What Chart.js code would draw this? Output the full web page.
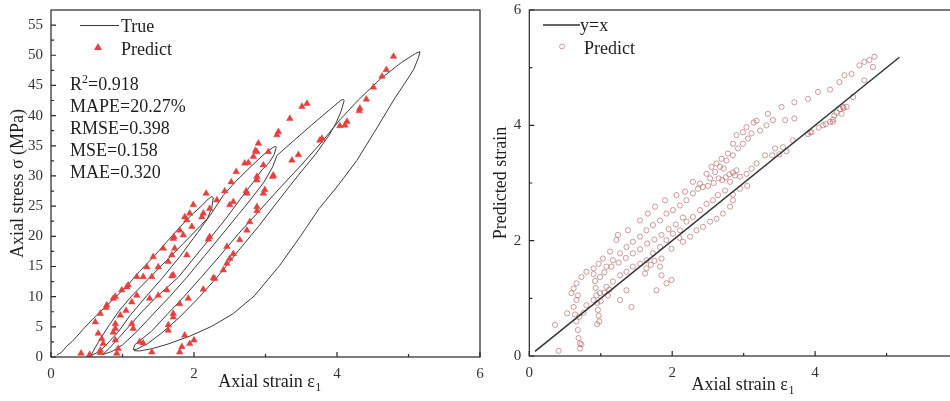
<!DOCTYPE html>
<html>
<head>
<meta charset="utf-8">
<script src="https://cdn.jsdelivr.net/npm/chart.js@4.4.1/dist/chart.umd.min.js"></script>
<style>
    html, body { margin: 0; padding: 0; background: #fff; overflow: hidden; }
    #wrap { position: relative; width: 950px; height: 401px; overflow: hidden; }
    #leftChart { position: absolute; left: 0; top: 0; }
    #rightChart { position: absolute; left: 490px; top: 0; }
</style>
</head>
<body>
<div id="wrap">
    <canvas id="leftChart" width="500" height="401"></canvas>
    <canvas id="rightChart" width="480" height="401"></canvas>
</div>
<script>
// --- 1. data ---

// stress-strain curve (True), one branch per loading / unloading pass
const trueLoad1 = [[0.08,0.3],[0.15,0.8],[0.22,1.8],[0.3,2.6],[0.45,4.6],[0.6,6.5],[0.75,8.2],[0.9,9.9],[1.05,11.6],[1.24,14.2],[1.45,16.8],[1.71,20.3],[1.88,22.5],[1.99,23.8],[2.12,25.2],[2.2,26.2],[2.25,26.6]];
const trueUnload1 = [[2.27,26.4],[2.25,24.8],[2.19,23.0],[2.08,21.6],[1.85,18.8],[1.6,15.8],[1.36,12.9],[1.12,10.0],[0.95,7.6],[0.82,5.4],[0.7,3.2],[0.62,1.6],[0.57,0.5],[0.55,0.2]];
const trueLoad2 = [[0.55,0.2],[0.68,0.9],[0.82,2.6],[0.95,4.3],[1.1,6.8],[1.3,9.6],[1.55,13.0],[1.8,16.6],[2.05,20.6],[2.25,23.9],[2.41,26.8],[2.6,29.3],[2.8,31.6],[2.98,33.6],[3.1,34.7],[3.14,34.9]];
const trueUnload2 = [[3.15,34.7],[3.12,33.5],[3.05,32.2],[2.95,31.0],[2.83,29.0],[2.65,26.2],[2.45,23.0],[2.22,19.6],[2.0,16.4],[1.78,13.2],[1.48,10.0],[1.28,7.6],[1.1,5.2],[0.95,3.2],[0.82,1.5],[0.74,0.6],[0.72,0.4]];
const trueLoad3 = [[0.72,0.4],[0.85,0.9],[1.0,2.0],[1.2,4.2],[1.42,7.0],[1.66,10.0],[1.9,13.2],[2.15,16.8],[2.4,20.4],[2.62,23.6],[2.8,26.2],[2.98,29.0],[3.1,31.5],[3.16,33.4],[3.4,35.9],[3.65,38.5],[3.9,41.0],[4.05,42.5],[4.09,42.7]];
const trueUnload3 = [[4.1,42.5],[4.06,40.8],[3.98,38.6],[3.88,36.6],[3.7,33.6],[3.45,30.0],[3.16,25.6],[2.9,21.6],[2.62,17.6],[2.35,13.6],[2.08,10.0],[1.8,6.6],[1.55,4.0],[1.35,2.2],[1.2,1.3],[1.15,1.2]];
const trueLoad4 = [[1.15,1.2],[1.17,2.0],[1.25,2.8],[1.4,4.2],[1.62,7.0],[1.86,10.0],[2.1,13.2],[2.35,16.6],[2.62,20.4],[2.92,24.3],[3.2,28.0],[3.5,31.8],[3.8,35.8],[4.04,39.3],[4.3,42.6],[4.6,46.0],[4.9,48.8],[5.1,50.3],[5.16,50.6]];
const trueUnload4 = [[5.16,50.6],[5.14,49.6],[5.07,47.6],[4.95,45.4],[4.81,42.9],[4.57,38.2],[4.28,32.6],[4.0,28.2],[3.75,24.6],[3.5,20.2],[3.2,15.2],[2.85,10.2],[2.55,7.2],[2.25,5.1],[1.95,3.5],[1.65,2.2],[1.42,1.4],[1.24,1.0],[1.16,1.05]];

// predicted strain vs. stress (left, triangles)
const predictStress = [[4.79,49.8],[4.69,47.6],[4.63,46.5],[4.51,44.7],[4.41,42.7],[4.32,41.2],[4.31,40.8],[4.14,39.0],[4.11,38.4],[4.04,38.3],[3.79,36.2],[3.76,35.9],[3.58,42.0],[3.51,41.5],[3.34,39.5],[3.46,33.5],[3.37,32.6],[3.18,37.3],[3.16,36.8],[3.11,30.1],[3.10,29.9],[3.04,34.0],[2.99,27.7],[2.97,27.1],[2.97,31.8],[2.90,35.4],[2.88,34.0],[2.86,34.2],[2.83,33.2],[2.76,32.2],[2.71,32.1],[2.88,29.9],[2.88,29.3],[2.88,24.9],[2.88,24.2],[2.74,27.1],[2.73,27.5],[2.78,22.4],[2.74,21.0],[2.64,19.4],[2.59,30.7],[2.52,29.0],[2.55,25.7],[2.50,25.2],[2.43,27.5],[2.32,26.0],[2.22,24.6],[2.17,27.1],[2.13,23.8],[2.11,23.2],[2.22,19.9],[2.20,19.5],[2.46,18.3],[2.55,17.1],[2.50,16.3],[2.46,15.5],[2.41,14.4],[2.29,13.0],[2.27,13.1],[2.13,11.2],[1.99,25.2],[1.94,23.8],[1.90,22.7],[1.87,23.2],[1.97,21.6],[1.85,20.2],[1.80,21.0],[1.71,19.6],[1.72,19.9],[1.57,18.0],[1.43,16.6],[1.34,14.9],[1.20,13.3],[1.08,11.9],[1.06,11.6],[0.99,11.1],[0.90,10.0],[0.87,9.7],[0.78,8.6],[0.77,8.2],[0.69,7.2],[0.62,5.8],[0.66,3.9],[0.71,3.0],[0.73,2.2],[0.69,1.1],[0.69,0.7],[0.42,0.6],[0.54,0.4],[0.92,0.6],[0.94,1.4],[0.90,2.8],[0.87,4.1],[0.90,4.7],[0.90,5.5],[0.97,6.9],[1.05,7.7],[1.13,9.1],[1.20,10.2],[1.29,13.3],[1.41,13.3],[1.50,14.9],[1.64,15.8],[1.69,16.9],[1.73,18.0],[1.90,16.9],[1.71,13.6],[1.69,13.4],[1.62,11.1],[1.50,10.2],[1.38,9.7],[1.13,5.5],[1.15,4.7],[1.24,2.5],[1.29,2.3],[1.41,0.8],[1.64,5.3],[1.64,4.4],[1.71,7.2],[1.71,6.6],[1.80,8.8],[1.87,3.6],[1.83,1.7],[1.80,0.8],[1.94,2.2],[2.00,2.8],[1.92,9.7]];

// fit statistics printed on the left panel
const statLines = ['R2=0.918', 'MAPE=20.27%', 'RMSE=0.398', 'MSE=0.158', 'MAE=0.320'];

// true vs. predicted strain (right, circles)
const predictUpper = [[4.83,5.19],[4.76,5.13],[4.69,5.10],[4.62,5.04],[4.51,4.89],[4.41,4.87],[4.34,4.75],[4.21,4.62],[4.04,4.58],[3.90,4.46],[3.71,4.40],[3.53,4.32],[3.34,4.20],[3.18,4.08],[3.14,4.05],[3.04,3.97],[2.99,3.88],[2.90,3.83],[2.85,3.68],[2.78,3.51],[2.69,3.42],[2.62,3.34],[2.55,3.28],[2.48,3.16],[2.39,2.99],[2.29,3.02],[2.18,2.85],[2.06,2.79],[1.90,2.70],[1.76,2.59],[1.66,2.47],[1.55,2.35],[1.38,2.18],[1.24,2.10],[1.22,2.01],[1.13,1.81],[1.03,1.69],[0.97,1.60],[0.90,1.52],[0.80,1.46],[0.73,1.37],[0.66,1.26],[0.62,1.17],[0.59,1.09]];
const predictMiddle = [[4.44,4.32],[4.37,4.20],[4.25,4.06],[4.11,4.00],[3.95,3.88],[3.71,4.12],[3.58,4.09],[3.41,4.09],[3.32,4.00],[3.23,3.91],[3.11,3.86],[3.06,3.77],[2.99,3.68],[2.92,3.60],[2.85,3.48],[2.76,3.39],[2.67,3.28],[2.60,3.19],[2.53,3.08],[2.43,2.93],[2.36,2.90],[2.29,2.82],[2.20,2.70],[2.11,2.61],[2.01,2.53],[1.92,2.47],[1.83,2.35],[1.73,2.27],[1.64,2.18],[1.55,2.07],[1.45,1.98],[1.36,1.89],[1.27,1.78],[1.17,1.66],[1.08,1.55],[0.99,1.37],[2.70,3.05],[2.75,3.10],[2.80,3.15],[2.85,3.18],[2.90,3.22],[2.72,3.25],[2.65,3.08],[2.58,3.00],[2.50,2.95],[1.05,1.45],[1.15,1.55],[1.25,1.62],[1.35,1.70],[1.45,1.78],[1.55,1.85],[1.65,1.95],[1.75,2.02],[1.85,2.10],[1.95,2.20],[2.05,2.28],[2.15,2.40]];
const predictNearLine = [[4.81,5.01],[4.69,4.78],[4.53,4.49],[4.39,4.32],[4.27,4.17],[4.21,4.06],[3.93,3.88],[3.69,3.74],[3.55,3.62],[3.44,3.60],[3.30,3.48],[3.18,3.34],[3.11,3.25],[3.04,3.16],[2.95,3.11],[2.88,3.13],[2.81,3.02],[2.74,2.87],[2.64,2.79],[2.57,2.70],[2.48,2.64],[2.39,2.53],[2.29,2.41],[2.20,2.33],[2.11,2.18],[2.01,2.12],[1.92,2.01],[1.83,1.89],[1.73,1.78],[1.64,1.66],[1.55,1.60],[1.45,1.55],[1.36,1.46],[1.27,1.40],[1.17,1.29],[1.08,1.20],[0.99,1.09],[0.90,0.97],[0.80,0.88]];
const predictLower = [[4.30,4.22],[4.35,4.28],[4.40,4.30],[4.25,4.10],[4.15,4.02],[4.05,3.96],[3.90,3.85],[3.60,3.55],[3.50,3.50],[3.40,3.48],[3.05,2.95],[2.95,2.90],[2.85,2.80],[2.85,2.70],[2.81,2.59],[2.71,2.47],[2.62,2.38],[2.53,2.33],[2.43,2.24],[2.34,2.18],[2.25,2.07],[2.15,1.98],[2.10,2.05],[1.99,1.86],[1.99,1.32],[1.92,1.26],[1.85,1.40],[1.83,1.55],[1.85,1.69],[1.78,1.14],[1.64,1.52],[1.62,1.43],[1.43,0.85],[1.36,1.14],[1.27,0.97],[1.70,1.58],[1.75,1.65]];
const predictLowLeft = [[0.36,0.54],[0.41,0.09],[0.53,0.74],[0.66,0.97],[0.62,0.85],[0.64,0.72],[0.66,0.60],[0.68,0.45],[0.69,0.31],[0.71,0.22],[0.71,0.13],[0.73,0.20],[0.68,1.05],[0.70,0.68],[0.76,0.75],[0.90,1.42],[0.92,1.30],[0.93,1.18],[0.94,1.05],[0.95,0.92],[0.96,0.80],[0.97,0.70],[0.98,0.60],[0.95,0.55],[1.00,0.95],[1.05,1.10],[1.12,1.15],[1.10,1.05]];

// reference line y = x
const identityLine = [[0.08,0.08],[5.18,5.18]];

// axis tick positions
const leftXMajor = [0, 2, 4, 6];
const leftXMinor = [1, 3, 5];
const leftYMajor = [0, 5, 10, 15, 20, 25, 30, 35, 40, 45, 50, 55];
const leftYMinor = [2.5, 7.5, 12.5, 17.5, 22.5, 27.5, 32.5, 37.5, 42.5, 47.5, 52.5];
const rightXMajor = [0, 2, 4, 6];
const rightXMinor = [1, 3, 5];
const rightYMajor = [0, 2, 4, 6];
const rightYMinor = [1, 3, 5];

const FONT = "'Liberation Serif', 'Times New Roman', serif";
const INK = '#262626';
const RED = '#e4403e';
const ROSE = 'rgba(178, 100, 100, 0.8)';

// --- 2. helpers ---

function toXY(pairs) {
    return pairs.map(p => ({ x: p[0], y: p[1] }));
}

function axis(min, max, step, size, isX) {
    return {
        type: 'linear',
        min: min,
        max: max,
        grid: { display: false, drawTicks: false },
        border: { display: false },
        ticks: {
            stepSize: step,
            includeBounds: false,
            autoSkip: false,
            maxRotation: 0,
            padding: 8,
            color: '#333',
            font: { family: FONT, size: 15 }
        },
        afterFit: s => {
            // fixed axis size, no extra label overhang so the plot box lands where it should
            if (isX) s.height = size; else s.width = size;
            s.paddingTop = 0; s.paddingBottom = 0; s.paddingLeft = 0; s.paddingRight = 0;
        }
    };
}

// "Axial strain ε" with subscript 1
function strainTitle(ctx, cx, baseline) {
    ctx.font = `18px ${FONT}`;
    const main = 'Axial strain \u03b5';
    const w1 = ctx.measureText(main).width;
    ctx.font = `12px ${FONT}`;
    const w2 = ctx.measureText('1').width;
    const x0 = cx - (w1 + w2) / 2;
    ctx.textAlign = 'left';
    ctx.textBaseline = 'alphabetic';
    ctx.font = `18px ${FONT}`;
    ctx.fillText(main, x0, baseline);
    ctx.font = `12px ${FONT}`;
    ctx.fillText('1', x0 + w1 + 0.5, baseline + 4);
}

function drawTicks(ctx, chart, xMajor, xMinor, yMajor, yMinor) {
    const a = chart.chartArea;
    const sx = chart.scales.x, sy = chart.scales.y;
    ctx.beginPath();
    xMajor.forEach(v => { const p = sx.getPixelForValue(v); ctx.moveTo(p, a.bottom); ctx.lineTo(p, a.bottom - 5); });
    xMinor.forEach(v => { const p = sx.getPixelForValue(v); ctx.moveTo(p, a.bottom); ctx.lineTo(p, a.bottom - 3); });
    yMajor.forEach(v => { const p = sy.getPixelForValue(v); ctx.moveTo(a.left, p); ctx.lineTo(a.left + 5, p); });
    yMinor.forEach(v => { const p = sy.getPixelForValue(v); ctx.moveTo(a.left, p); ctx.lineTo(a.left + 3, p); });
    ctx.stroke();
}

const leftDecor = {
    id: 'leftDecor',
    afterDraw(chart) {
        const ctx = chart.ctx, a = chart.chartArea;
        ctx.save();
        ctx.strokeStyle = INK;
        ctx.lineWidth = 1.2;
        ctx.strokeRect(a.left, a.top, a.right - a.left, a.bottom - a.top);
        drawTicks(ctx, chart, leftXMajor, leftXMinor, leftYMajor, leftYMinor);

        ctx.fillStyle = '#1e1e1e';
        strainTitle(ctx, (a.left + a.right) / 2 + 4, 387);

        ctx.save();
        ctx.translate(18, (a.top + a.bottom) / 2);
        ctx.rotate(-Math.PI / 2);
        ctx.font = `18px ${FONT}`;
        ctx.textAlign = 'center';
        ctx.textBaseline = 'middle';
        ctx.fillText('Axial stress \u03c3 (MPa)', 0, 0);
        ctx.restore();

        // legend
        ctx.lineWidth = 1;
        ctx.strokeStyle = '#3a3a3a';
        ctx.beginPath();
        ctx.moveTo(80, 25.5);
        ctx.lineTo(119, 25.5);
        ctx.stroke();
        ctx.fillStyle = RED;
        ctx.beginPath();
        ctx.moveTo(98, 43);
        ctx.lineTo(102, 50);
        ctx.lineTo(94, 50);
        ctx.closePath();
        ctx.fill();
        ctx.fillStyle = '#1e1e1e';
        ctx.font = `18px ${FONT}`;
        ctx.textAlign = 'left';
        ctx.textBaseline = 'alphabetic';
        ctx.fillText('True', 121, 32);
        ctx.fillText('Predict', 121, 54.5);

        // statistics
        statLines.forEach((t, i) => {
            const y = 90 + i * 22;
            if (t.startsWith('R2')) {
                ctx.font = `18px ${FONT}`;
                ctx.fillText('R', 70, y);
                const w = ctx.measureText('R').width;
                ctx.font = `12px ${FONT}`;
                ctx.fillText('2', 70 + w, y - 7);
                ctx.font = `18px ${FONT}`;
                ctx.fillText(t.slice(2), 70 + w + 6, y);
            } else {
                ctx.font = `18px ${FONT}`;
                ctx.fillText(t, 70, y);
            }
        });
        ctx.restore();
    }
};

const rightDecor = {
    id: 'rightDecor',
    afterDraw(chart) {
        const ctx = chart.ctx, a = chart.chartArea;
        ctx.save();
        ctx.strokeStyle = INK;
        ctx.lineWidth = 1.2;
        ctx.strokeRect(a.left, a.top, a.right - a.left, a.bottom - a.top);
        drawTicks(ctx, chart, rightXMajor, rightXMinor, rightYMajor, rightYMinor);

        ctx.fillStyle = '#1e1e1e';
        strainTitle(ctx, (a.left + a.right) / 2 - 1, 390);

        ctx.save();
        ctx.translate(11, (a.top + a.bottom) / 2);
        ctx.rotate(-Math.PI / 2);
        ctx.font = `18px ${FONT}`;
        ctx.textAlign = 'center';
        ctx.textBaseline = 'middle';
        ctx.fillText('Predicted strain', 0, 0);
        ctx.restore();

        // legend
        ctx.lineWidth = 1.6;
        ctx.strokeStyle = '#333';
        ctx.beginPath();
        ctx.moveTo(53, 25);
        ctx.lineTo(90, 25);
        ctx.stroke();
        ctx.lineWidth = 0.8;
        ctx.strokeStyle = ROSE;
        ctx.beginPath();
        ctx.arc(72, 46.5, 2.5, 0, Math.PI * 2);
        ctx.stroke();
        ctx.fillStyle = '#1e1e1e';
        ctx.font = `18px ${FONT}`;
        ctx.textAlign = 'left';
        ctx.textBaseline = 'alphabetic';
        ctx.fillText('y=x', 90, 31);
        ctx.fillText('Predict', 94, 53.5);
        ctx.restore();
    }
};

// --- 3. charts ---

function renderLeftChart() {
    const ctx = document.getElementById('leftChart').getContext('2d');
    const trueCurve = [].concat(trueLoad1, trueUnload1, trueLoad2, trueUnload2,
                                trueLoad3, trueUnload3, trueLoad4, trueUnload4);
    return new Chart(ctx, {
        type: 'scatter',
        data: {
            datasets: [
                {
                    label: 'Predict',
                    data: toXY(predictStress),
                    pointStyle: 'triangle',
                    pointRadius: 3.8,
                    backgroundColor: RED,
                    borderColor: RED,
                    borderWidth: 0.5,
                    order: 0
                },
                {
                    label: 'True',
                    data: toXY(trueCurve),
                    showLine: true,
                    borderColor: '#3c3c3c',
                    borderWidth: 1,
                    pointRadius: 0,
                    tension: 0,
                    order: 1
                }
            ]
        },
        options: {
            responsive: false,
            animation: false,
            devicePixelRatio: 1,
            events: [],
            layout: { padding: { top: 10, right: 20, left: 0, bottom: 0 } },
            plugins: { legend: { display: false }, tooltip: { enabled: false } },
            scales: {
                x: axis(0, 6, 2, 44, true),
                y: axis(0, 57.5, 5, 51, false)
            }
        },
        plugins: [leftDecor]
    });
}

function renderRightChart() {
    const ctx = document.getElementById('rightChart').getContext('2d');
    const circles = [].concat(predictUpper, predictMiddle, predictNearLine, predictLower, predictLowLeft);
    return new Chart(ctx, {
        type: 'scatter',
        data: {
            datasets: [
                {
                    label: 'y=x',
                    data: toXY(identityLine),
                    showLine: true,
                    borderColor: '#333',
                    borderWidth: 1.5,
                    pointRadius: 0,
                    order: 0
                },
                {
                    label: 'Predict',
                    data: toXY(circles),
                    pointStyle: 'circle',
                    pointRadius: 2.6,
                    backgroundColor: 'rgba(0,0,0,0)',
                    borderColor: ROSE,
                    borderWidth: 0.8,
                    order: 1
                }
            ]
        },
        options: {
            responsive: false,
            animation: false,
            devicePixelRatio: 1,
            events: [],
            layout: { padding: { top: 10, right: 12, left: 0, bottom: 0 } },
            plugins: { legend: { display: false }, tooltip: { enabled: false } },
            scales: {
                x: axis(0, 6, 2, 45, true),
                y: axis(0, 6, 2, 39.3, false)
            }
        },
        plugins: [rightDecor]
    });
}

renderLeftChart();
renderRightChart();
</script>
</body>
</html>
